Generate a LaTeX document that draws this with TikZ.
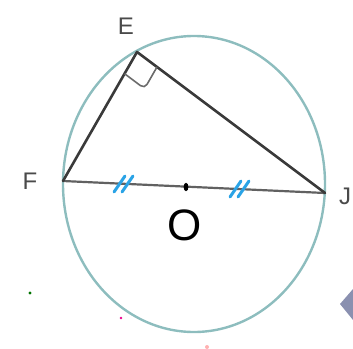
\documentclass[tikz,border=0pt]{standalone}
\usepackage{fontspec}
\setmainfont{Liberation Sans}
\usetikzlibrary{calc}
\definecolor{circ}{HTML}{8DBDBE}
\definecolor{seg}{HTML}{3A3A3A}
\definecolor{tick}{HTML}{2AA3E6}
\definecolor{lbl}{HTML}{4A4A4A}
\definecolor{diam}{HTML}{8A90B0}
\tikzset{
  seg/.style={draw=seg, line width=2.6pt, line cap=round, line join=round},
  dia/.style={draw=seg!80, line width=2.2pt},
  circl/.style={draw=circ, line width=2.4pt},
  tickm/.style={draw=tick, line width=3pt, line cap=round},
  lab/.style={text=lbl, font=\fontsize{24}{24}\selectfont, inner sep=0pt},
  ang/.style={draw=seg!75, line width=1.6pt, rounded corners=5pt}
}
\begin{document}
\begin{tikzpicture}[x=1pt,y=-1pt]
\useasboundingbox (0,0) rectangle (353,348);
\coordinate (C) at (194,184);
\coordinate (E) at (137,52);
\coordinate (F) at (63,181);
\coordinate (J) at (325,193);
\coordinate (O) at (186,187);
\draw[circl] (C) ellipse [x radius=131, y radius=148];
\draw[dia] (F) -- (J);
\draw[seg] (F) -- (E) -- (J);
\draw[ang] ($(E)!25pt!(F)$) -- ($($(E)!25pt!(F)$)+($(E)!25pt!(J)$)-(E)$) -- ($(E)!25pt!(J)$);
\fill[black] (O) ellipse [x radius=2.4, y radius=4.2];
% tick marks
\foreach \cx/\cy in {124/184, 240/189}{
  \draw[tickm] (\cx-10,\cy+8) -- (\cx+1,\cy-8);
  \draw[tickm] (\cx-2,\cy+8) -- (\cx+9,\cy-8);
}
\node[lab] (lE) at (126,26) {E};
\node[lab] (lF) at (30,181) {F};
\node[lab, anchor=west] (lJ) at (339,196) {J};
\node[text=black, font=\fontsize{44}{44}\selectfont, inner sep=0pt] (lO) at (185,225) {O};
% stray marks
\fill[green!45!black] (30,293) circle (1.6);
\fill[magenta] (121,318) circle (1.4);
\fill[red!30] (207,347) circle (2);
\fill[diam] (353,289) -- (340,304) -- (353,320) -- cycle;
\end{tikzpicture}
\end{document}
